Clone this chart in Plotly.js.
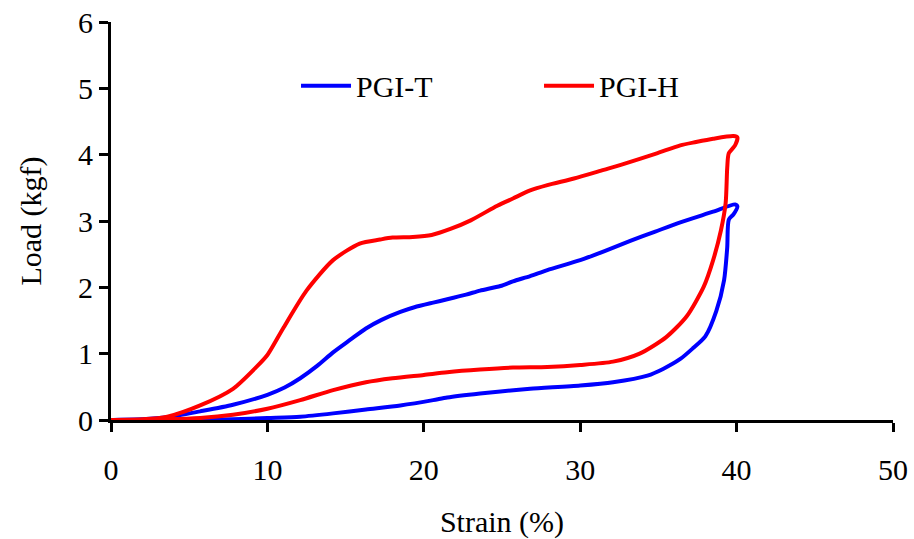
<!DOCTYPE html>
<html>
<head>
<meta charset="utf-8">
<script src="https://cdn.plot.ly/plotly-3.0.1.min.js"></script>
<style>
html,body{margin:0;padding:0;background:#fff;font-family:'Liberation Serif',serif;}
#chart{width:914px;height:539px;}
#chart svg text{font-family:'Liberation Serif','Times New Roman',serif !important;}
</style>
</head>
<body>
<div id="chart"></div>
<script>
// PGI-T (blue): loading then unloading, closed loop
const T_strain = [0, 2, 3.6, 5.7, 7.8, 10, 11.1, 12.1, 13.2, 14.2, 15.3, 16.3, 17.3, 18.5, 19.4, 20.6, 21.5, 22.7, 23.6, 24.9, 25.7, 26.8, 27.9, 30.0, 31.6, 33.2, 34.8, 36.4, 38.5, 39.9, 40.05, 39.8, 39.5,
  39.4, 39.2, 38.7, 38.0, 37.2, 36.4, 35.3, 34.3, 32.1, 30.0, 26.8, 24.9, 23.6, 21.5, 20.6, 18.5, 16.3, 14.2, 12.1, 10, 7.8, 5, 0];
const T_load = [0, 0.01, 0.04, 0.13, 0.23, 0.38, 0.49, 0.63, 0.82, 1.02, 1.21, 1.38, 1.51, 1.63, 1.70, 1.77, 1.82, 1.89, 1.95, 2.02, 2.09, 2.17, 2.26, 2.41, 2.55, 2.70, 2.84, 2.98, 3.14, 3.25, 3.22, 3.10, 3.02,
  2.60, 2.11, 1.64, 1.26, 1.08, 0.92, 0.77, 0.67, 0.57, 0.52, 0.47, 0.43, 0.40, 0.34, 0.30, 0.22, 0.16, 0.10, 0.05, 0.03, 0.01, 0.0, 0];

// PGI-H (red)
const H_strain = [0, 2, 3.6, 5.7, 7.8, 9.3, 10, 11.0, 12.5, 14.2, 15.9, 17.2, 18.0, 19.3, 20.5, 21.7, 23.0, 24.7, 25.7, 26.8, 27.9, 29.6, 31.5, 32.8, 34.9, 36.4, 37.4, 38.5, 39.8, 40.05, 39.9, 39.5, 39.4,
  39.3, 39.0, 38.5, 37.9, 36.8, 35.5, 33.8, 32.1, 30.0, 27.9, 25.7, 23.6, 21.5, 20.0, 18.0, 16.3, 14.2, 12.1, 10, 7.8, 5.7, 3.6, 0];
const H_load = [0, 0.01, 0.05, 0.22, 0.47, 0.80, 0.98, 1.38, 1.95, 2.41, 2.66, 2.72, 2.75, 2.76, 2.79, 2.88, 3.01, 3.23, 3.34, 3.46, 3.54, 3.64, 3.77, 3.86, 4.02, 4.14, 4.19, 4.24, 4.28, 4.26, 4.14, 4.02, 3.80,
  3.27, 2.86, 2.41, 2.01, 1.56, 1.25, 1.00, 0.88, 0.83, 0.80, 0.79, 0.76, 0.72, 0.68, 0.63, 0.57, 0.45, 0.30, 0.17, 0.08, 0.03, 0.01, 0];

const xTicks = [0, 10, 20, 30, 40, 50];
const yTicks = [0, 1, 2, 3, 4, 5, 6];

const fam = 'Liberation Serif';
const f30 = () => ({family: fam, size: 30, color: '#000'});

const traces = [
  {x: T_strain, y: T_load, name: 'PGI-T', mode: 'lines', line: {color: '#0000FF', width: 4, shape: 'spline', smoothing: 0.7}},
  {x: H_strain, y: H_load, name: 'PGI-H', mode: 'lines', line: {color: '#FF0000', width: 4, shape: 'spline', smoothing: 0.7}}
];

const layout = {
  width: 914, height: 539,
  margin: {l: 111, r: 21, t: 22, b: 119},
  paper_bgcolor: '#fff', plot_bgcolor: '#fff',
  font: f30(),
  showlegend: true,
  legend: {orientation: 'h', x: 0.2366, y: 0.84, xanchor: 'left', yanchor: 'middle',
    font: f30(), bgcolor: 'rgba(0,0,0,0)',
    entrywidth: 178, entrywidthmode: 'pixels', itemwidth: 50},
  xaxis: {range: [0, 50], tickvals: xTicks, ticktext: xTicks.map(String),
    showgrid: false, zeroline: false, showline: true, linecolor: '#000', linewidth: 3,
    ticks: 'outside', ticklen: 9, tickwidth: 3, tickcolor: '#000',
    tickfont: f30(), ticklabelstandoff: 12,
    title: {text: 'Strain (%)', font: f30(), standoff: 26}},
  yaxis: {range: [0, 6], tickvals: yTicks, ticktext: yTicks.map(String),
    showgrid: false, zeroline: false, showline: true, linecolor: '#000', linewidth: 3,
    ticks: 'outside', ticklen: 9, tickwidth: 3, tickcolor: '#000',
    tickfont: f30(),
    title: {text: 'Load (kgf)', font: f30(), standoff: 28}}
};

Plotly.newPlot('chart', traces, layout, {displayModeBar: false, staticPlot: true});
</script>
</body>
</html>
